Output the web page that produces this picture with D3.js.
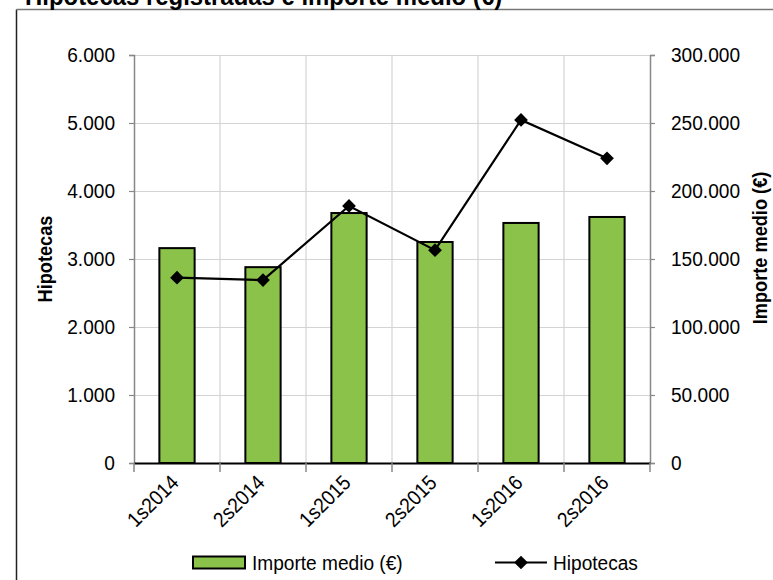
<!DOCTYPE html>
<html>
<head>
<meta charset="utf-8">
<script src="https://cdn.jsdelivr.net/npm/d3@7"></script>
<style>
  html, body { margin: 0; padding: 0; background: #fff; }
  svg { display: block; font-family: "Liberation Sans", Arial, sans-serif; }
</style>
</head>
<body>
<svg id="chart" width="773" height="580"></svg>
<script>
// ---- data ----
const categories = ["1s2014", "2s2014", "1s2015", "2s2015", "1s2016", "2s2016"];
const importeMedio = [158000, 144000, 183800, 162500, 176500, 180900];
const hipotecas = [2725, 2690, 3780, 3130, 5045, 4480];
const leftTicks = [0, 1000, 2000, 3000, 4000, 5000, 6000];
const rightTicks = [0, 50000, 100000, 150000, 200000, 250000, 300000];
const titleText = "Hipotecas registradas e importe medio (€)";
const leftTitle = "Hipotecas";
const rightTitle = "Importe medio (€)";
const legendBar = "Importe medio (€)";
const legendLine = "Hipotecas";

const svg = d3.select("#chart");
const W = 773, H = 580;
const plot = { left: 134, right: 650, top: 55, bottom: 463 };
const SX = 0.91; // horizontal condensing of the text face
const FS = 21;

const loc = d3.formatLocale({ decimal: ",", thousands: ".", grouping: [3], currency: ["", "€"] });
const fmt = loc.format(",d");

const x = d3.scaleBand().domain(categories).range([plot.left, plot.right]).padding(0);
const yL = d3.scaleLinear().domain([0, 6000]).range([plot.bottom, plot.top]);
const yR = d3.scaleLinear().domain([0, 300000]).range([plot.bottom, plot.top]);

// outer frame
svg.append("line").attr("x1", 16.5).attr("x2", 16.5).attr("y1", 9.5).attr("y2", H).attr("stroke", "#222").attr("stroke-width", 1.5);
svg.append("line").attr("x1", 16.5).attr("x2", W).attr("y1", 9.5).attr("y2", 9.5).attr("stroke", "#777").attr("stroke-width", 1.5);

// title (partially clipped at top, as in the original)
svg.append("text").attr("transform", `translate(25,5) scale(${SX},1)`).attr("font-size", 26.3).attr("font-weight", "bold").attr("fill", "#000").text(titleText);

// gridlines
const grid = svg.append("g");
grid.selectAll("line.h").data(leftTicks.filter(d => d > 0)).join("line")
  .attr("x1", plot.left).attr("x2", plot.right)
  .attr("y1", d => Math.round(yL(d)) + 0.5).attr("y2", d => Math.round(yL(d)) + 0.5)
  .attr("stroke", "#d4d4d4").attr("stroke-width", 1.2);
grid.selectAll("line.v").data(categories.slice(1)).join("line")
  .attr("x1", d => x(d)).attr("x2", d => x(d))
  .attr("y1", plot.top).attr("y2", plot.bottom)
  .attr("stroke", "#d4d4d4").attr("stroke-width", 1.2);

function condenseTicks(g) {
  g.selectAll(".tick text").each(function () {
    const t = d3.select(this);
    const ox = +t.attr("x");
    t.attr("x", ox / SX).attr("transform", `scale(${SX},1)`)
      .attr("font-size", FS).attr("fill", "#000")
      .attr("font-family", "Liberation Sans, Arial, sans-serif");
  });
}

// left axis
const axL = d3.axisLeft(yL).tickValues(leftTicks).tickFormat(fmt).tickSize(5).tickPadding(14);
const gL = svg.append("g").attr("transform", `translate(${plot.left},0)`).call(axL);
gL.select(".domain").attr("stroke", "#888").attr("stroke-width", 1.5);
gL.selectAll(".tick line").attr("stroke", "#888").attr("stroke-width", 1.2);
condenseTicks(gL);

// right axis
const axR = d3.axisRight(yR).tickValues(rightTicks).tickFormat(fmt).tickSize(5).tickPadding(16);
const gR = svg.append("g").attr("transform", `translate(${plot.right},0)`).call(axR);
gR.select(".domain").attr("stroke", "#888").attr("stroke-width", 1.5);
gR.selectAll(".tick line").attr("stroke", "#888").attr("stroke-width", 1.2);
condenseTicks(gR);

// bars
const barW = x.bandwidth() * 0.41;
svg.append("g").selectAll("rect").data(categories).join("rect")
  .attr("x", (d) => x(d) + (x.bandwidth() - barW) / 2)
  .attr("y", (d, i) => yR(importeMedio[i]))
  .attr("width", barW)
  .attr("height", (d, i) => plot.bottom - yR(importeMedio[i]))
  .attr("fill", "#8bc24a").attr("stroke", "#000").attr("stroke-width", 2);

// x axis
const axX = d3.axisBottom(x).tickValues([]).tickSize(0);
const gX = svg.append("g").attr("transform", `translate(0,${plot.bottom})`).call(axX);
gX.select(".domain").attr("stroke", "#000").attr("stroke-width", 1.8);
const bounds = categories.map(c => x(c)).concat([plot.right]);
svg.append("g").selectAll("line").data(bounds).join("line")
  .attr("x1", d => d).attr("x2", d => d).attr("y1", plot.bottom).attr("y2", plot.bottom + 9)
  .attr("stroke", "#888").attr("stroke-width", 1.5);
svg.append("g").selectAll("text").data(categories).join("text")
  .attr("transform", d => `translate(${x(d) + x.bandwidth() / 2 + 3},${plot.bottom + 21}) rotate(-45) scale(${SX},1)`)
  .attr("text-anchor", "end").attr("font-size", FS).attr("fill", "#000")
  .text(d => d);

// line
const line = d3.line().x((d, i) => x(categories[i]) + x.bandwidth() / 2).y(d => yL(d));
svg.append("path").datum(hipotecas).attr("d", line).attr("fill", "none").attr("stroke", "#000").attr("stroke-width", 2.2);
const diamond = d3.symbol().type(d3.symbolDiamond2).size(120);
svg.append("g").selectAll("path").data(hipotecas).join("path")
  .attr("transform", (d, i) => `translate(${x(categories[i]) + x.bandwidth() / 2},${yL(d)})`)
  .attr("d", diamond).attr("fill", "#000");

// axis titles
svg.append("text").attr("transform", `translate(52,${(plot.top + plot.bottom) / 2}) rotate(-90) scale(${SX},1)`)
  .attr("text-anchor", "middle").attr("font-size", 20).attr("font-weight", "bold").text(leftTitle);
svg.append("text").attr("transform", `translate(767,248) rotate(-90) scale(${SX},1)`)
  .attr("text-anchor", "middle").attr("font-size", 20).attr("font-weight", "bold").text(rightTitle);

// legend
const lg = svg.append("g");
lg.append("rect").attr("x", 193).attr("y", 556.5).attr("width", 52).attr("height", 12)
  .attr("fill", "#8bc24a").attr("stroke", "#000").attr("stroke-width", 2);
lg.append("text").attr("transform", `translate(252,570) scale(${SX},1)`).attr("font-size", FS).text(legendBar);
lg.append("line").attr("x1", 495).attr("x2", 547).attr("y1", 562.5).attr("y2", 562.5).attr("stroke", "#000").attr("stroke-width", 2.2);
lg.append("path").attr("transform", "translate(521,562.5)").attr("d", diamond).attr("fill", "#000");
lg.append("text").attr("transform", `translate(553,570) scale(${SX},1)`).attr("font-size", FS).text(legendLine);
</script>
</body>
</html>
